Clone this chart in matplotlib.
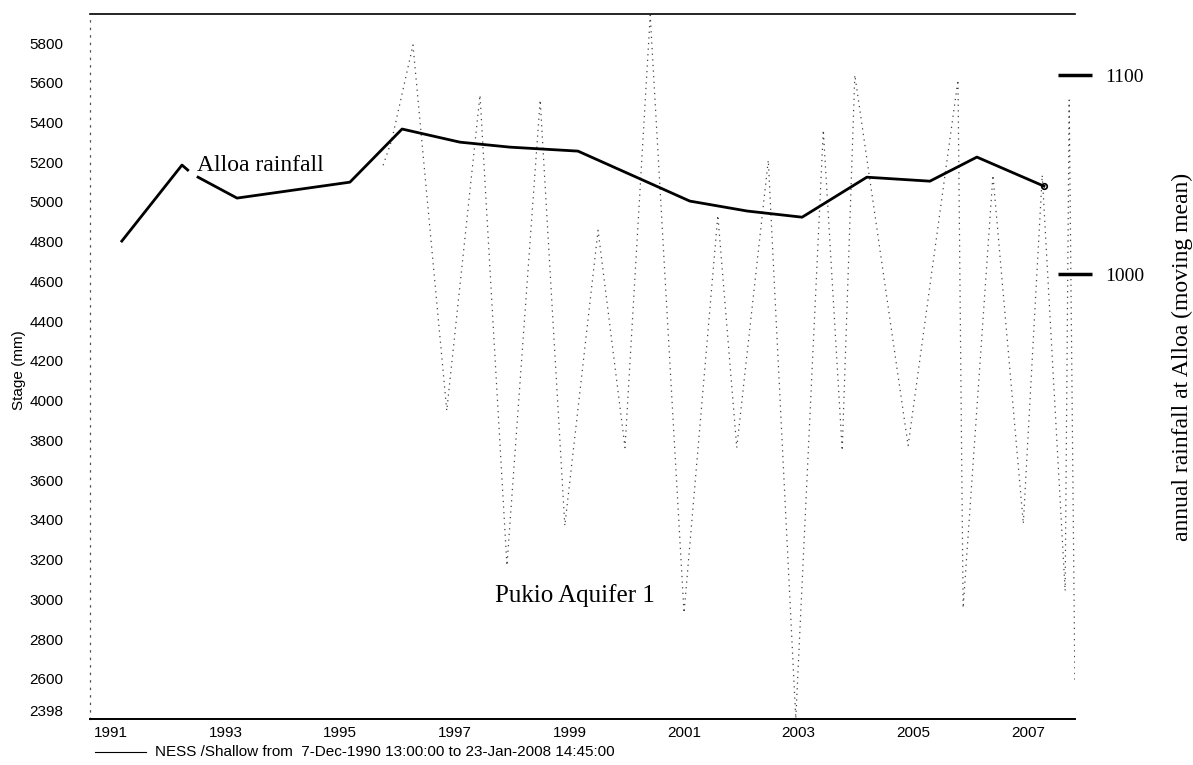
import matplotlib
matplotlib.use("Agg")
import matplotlib.pyplot as plt
from matplotlib.lines import Line2D

# Pukio Aquifer 1 stage record (decimal year, mm) - turning points of the logger trace
stage_year = [1995.75, 1995.90, 1996.27, 1996.86, 1997.44, 1997.91, 1998.49, 1998.92,
              1999.50, 1999.97, 2000.41, 2001.00, 2001.59, 2001.92, 2002.47, 2002.95,
              2003.43, 2003.76, 2003.98, 2004.91, 2005.78, 2005.87, 2006.39, 2006.92,
              2007.25, 2007.65, 2007.72, 2007.82]
stage_mm = [5185, 5311, 5790, 3950, 5538, 3170, 5513, 3371,
            4858, 3764, 5940, 2932, 4933, 3764, 5210, 2400,
            5362, 3749, 5639, 3774, 5614, 2957, 5135, 3381,
            5135, 3043, 5513, 2580]

# Alloa annual rainfall, moving mean (mm); the line is broken where the label sits
rain_year = [1991.19, 1992.24, 1992.34, None, 1992.52, 1993.20, 1995.17, 1996.08,
             1997.09, 1997.96, 1999.15, 2001.10, 2002.10, 2003.06, 2004.19, 2005.29,
             2006.11, 2007.28]
rain_mm = [1016.6, 1054.8, 1052.3, None, 1048.7, 1038.2, 1046.2, 1072.9,
           1066.3, 1063.8, 1061.8, 1036.7, 1031.7, 1028.6, 1048.7, 1046.7,
           1058.8, 1044.2]

year_ticks = [1991, 1993, 1995, 1997, 1999, 2001, 2003, 2005, 2007]
stage_ticks = [2398, 2600, 2800, 3000, 3200, 3400, 3600, 3800, 4000, 4200,
               4400, 4600, 4800, 5000, 5200, 5400, 5600, 5800]
rain_ticks = [1000, 1100]

sans = "Liberation Sans"
serif = "Liberation Serif"

fig = plt.figure(figsize=(11.93, 7.65), dpi=100)
ax = fig.add_axes([0.0754, 0.060, 0.8256, 0.9217])

# stage trace, thin and dotted like the scanned logger plot
ax.plot(stage_year, stage_mm, color="#444444", lw=0.9, ls=(0, (1, 3.5)), zorder=2)

ax.set_xlim(1990.634, 2007.82)
ax.set_ylim(2398, 5946)
ax.set_xticks(year_ticks)
ax.set_xticklabels([str(y) for y in year_ticks], fontfamily=sans, fontsize=11)
ax.set_yticks(stage_ticks)
ax.set_yticklabels([str(v) for v in stage_ticks], fontfamily=sans, fontsize=11)
ax.get_yticklabels()[0].set_va("bottom")
ax.tick_params(axis="y", length=0, pad=19)
ax.tick_params(axis="x", length=0, pad=5)

ax.spines["right"].set_visible(False)
ax.spines["top"].set_linewidth(1.2)
ax.spines["bottom"].set_linewidth(1.4)
ax.spines["left"].set_linestyle((0, (1, 5)))
ax.spines["left"].set_color("#555555")
ax.spines["left"].set_linewidth(0.9)

# rainfall on its own right-hand scale
ax2 = ax.twinx()
ryear = [float("nan") if v is None else v for v in rain_year]
rmm = [float("nan") if v is None else v for v in rain_mm]
ax2.plot(ryear, rmm, color="black", lw=2.0, zorder=3)
ax2.plot(ryear[-1], rmm[-1], marker="o", ms=4, mfc="white", mec="black", mew=1.2)
ax2.set_ylim(776.4, 1130.7)
ax2.set_yticks(rain_ticks)
ax2.set_yticklabels([str(v) for v in rain_ticks], fontfamily=serif, fontsize=14)
ax2.tick_params(axis="y", direction="inout", length=24, width=2.5, pad=10)
for s in ax2.spines.values():
    s.set_visible(False)

ax2.text(1992.5, 1052, "Alloa rainfall", fontfamily=serif, fontsize=17,
         ha="left", va="baseline", zorder=5)
ax.text(1997.71, 2985, "Pukio Aquifer 1", fontfamily=serif, fontsize=18,
        ha="left", va="baseline", zorder=5)

fig.text(0.016, 0.516, "Stage (mm)", rotation=90, ha="center", va="center",
         fontfamily=sans, fontsize=11)
fig.text(0.991, 0.533, "annual rainfall at Alloa (moving mean)", rotation=90,
         ha="center", va="center", fontfamily=serif, fontsize=17)

# series key under the axis
fig.add_artist(Line2D([0.080, 0.122], [0.017, 0.017], color="black", lw=0.8))
fig.text(0.130, 0.017, "NESS /Shallow from  7-Dec-1990 13:00:00 to 23-Jan-2008 14:45:00",
         ha="left", va="center", fontfamily=sans, fontsize=11)

fig.savefig("out.png", dpi=100)
